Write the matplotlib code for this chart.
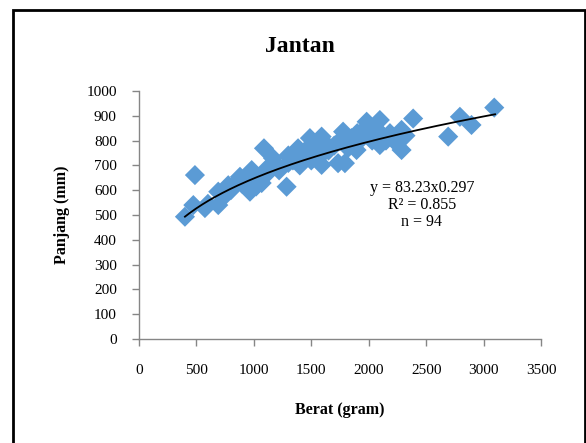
import numpy as np
import matplotlib.pyplot as plt
from matplotlib.patches import Rectangle

# data (Berat in gram, Panjang in mm)
berat = [400, 487, 473, 574, 600, 690, 690, 740, 777, 800, 850, 879, 900, 966,
         981, 1000, 1020, 1068, 1088, 1100, 1120, 1167, 1200, 1220, 1285, 1300,
         1300, 1340, 1385, 1400, 1420, 1450, 1488, 1500, 1500, 1530, 1560, 1590,
         1590, 1600, 1620, 1650, 1700, 1733, 1750, 1777, 1793, 1800, 1820, 1850,
         1894, 1900, 1920, 1950, 1982, 2000, 2030, 2060, 2097, 2097, 2120, 2150,
         2185, 2220, 2286, 2286, 2320, 2387, 2692, 2794, 2895, 3093]
panjang = [493, 661, 540, 528, 545, 594, 540, 575, 620, 600, 630, 654, 625, 594,
           681, 650, 615, 629, 769, 660, 690, 729, 700, 680, 614, 740,
           710, 720, 769, 700, 740, 760, 810, 720, 780, 750, 730, 816,
           702, 770, 790, 760, 780, 709, 800, 836, 709, 790, 770, 810,
           762, 830, 800, 840, 876, 820, 800, 850, 883, 782, 820, 800,
           830, 800, 843, 762, 820, 889, 816, 896, 863, 933]

# power trend line y = a * x^b
coef_a = 83.23
coef_b = 0.297
x_range = (400, 3100)

xticks = [0, 500, 1000, 1500, 2000, 2500, 3000, 3500]
yticks = [0, 100, 200, 300, 400, 500, 600, 700, 800, 900, 1000]

plt.rcParams['font.family'] = ['Liberation Serif', 'DejaVu Serif']

fig = plt.figure(figsize=(5.86, 4.43), dpi=100)
ax = fig.add_axes([139 / 586, 1 - 339 / 443, 402 / 586, 248 / 443])

ax.scatter(berat, panjang, marker='D', s=105, color='#5B9BD5',
           edgecolors='none', zorder=2)

xt = np.linspace(x_range[0], x_range[1], 200)
ax.plot(xt, coef_a * xt ** coef_b, color='black', lw=1.3, zorder=3)

ax.set_xlim(0, 3500)
ax.set_ylim(0, 1000)
ax.set_xticks(xticks)
ax.set_yticks(yticks)
ax.tick_params(labelsize=11, color='#868686', length=5, width=1,
               direction='out', pad=13)
ax.tick_params(axis='y', pad=11)
for side in ['top', 'right']:
    ax.spines[side].set_visible(False)
for side in ['left', 'bottom']:
    ax.spines[side].set_color('#868686')
    ax.spines[side].set_linewidth(1)

ax.set_xlabel("Berat (gram)", fontsize=11.5, fontweight='bold', labelpad=18)
ax.set_ylabel("Panjang (mm)", fontsize=11.5, fontweight='bold', labelpad=12)

fig.text(300 / 586, 1 - 46 / 443, "Jantan", fontsize=17, fontweight='bold',
         ha='center', va='center')

ax.text(2463, 540, "y = 83.23x0.297\nR² = 0.855\nn = 94", fontsize=11.5,
        ha='center', va='center', linespacing=1.05)

# outer chart frame
fig.patches.append(Rectangle((12.5 / 586, -0.05), 572 / 586, 1.05 - 10.5 / 443,
                             transform=fig.transFigure, fill=False,
                             edgecolor='black', lw=2))

fig.savefig("out.png", dpi=100)
